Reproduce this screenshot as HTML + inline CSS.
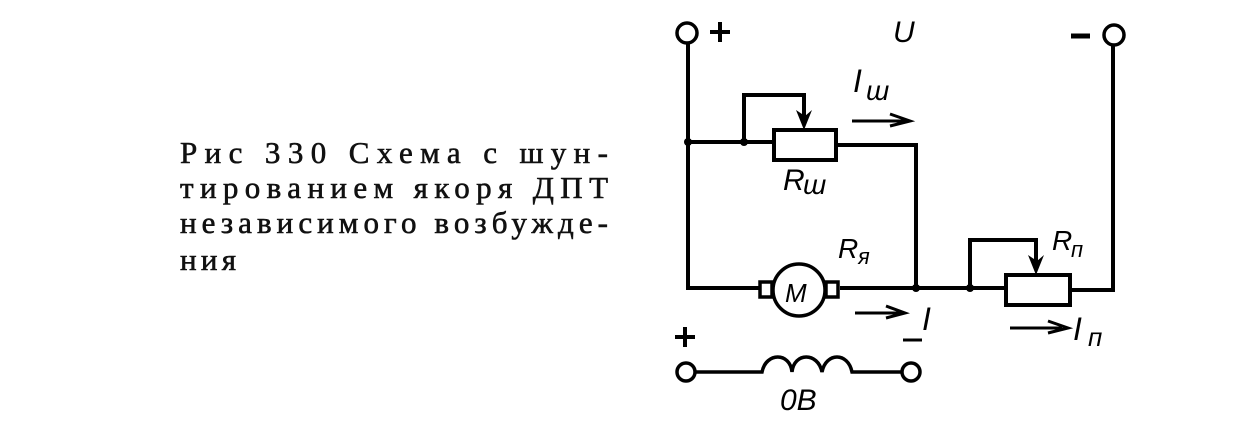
<!DOCTYPE html>
<html><head><meta charset="utf-8"><style>html,body{margin:0;padding:0;background:#fff}svg{display:block}</style></head>
<body>
<svg width="1236" height="428" viewBox="0 0 1236 428" xmlns="http://www.w3.org/2000/svg">
<g font-family="Liberation Serif, serif" font-size="31" fill="#111" stroke="#111" stroke-width="0.6">
<text x="180" y="163" textLength="428" lengthAdjust="spacing">Рис 330 Схема с шун-</text>
<text x="180" y="198" textLength="428" lengthAdjust="spacing">тированием якоря ДПТ</text>
<text x="180" y="233" textLength="428" lengthAdjust="spacing">независимого возбужде-</text>
<text x="180" y="270" textLength="56" lengthAdjust="spacing">ния</text>
</g>
<g stroke="#000" stroke-width="4" fill="none">
<circle cx="687" cy="33" r="10" stroke-width="3.5"/>
<circle cx="1114" cy="35" r="10" stroke-width="3.5"/>
<path d="M688 43 V288 H760"/>
<path d="M1113 45 V290 H1070"/>
<path d="M688 142 H774"/>
<path d="M744 142 V95 H804 V124"/>
<rect x="774" y="130" width="62" height="30"/>
<path d="M836 145 H916 V288"/>
<path d="M840 288 H1006"/>
<path d="M970 288 V240 H1036 V268"/>
<rect x="1006" y="275" width="64" height="30"/>
<rect x="760" y="282" width="12" height="15" stroke-width="3.5"/>
<rect x="826" y="282" width="12" height="15" stroke-width="3.5"/>
<circle cx="799" cy="290" r="26" stroke-width="3.5"/>
<circle cx="686" cy="372" r="9" stroke-width="3.5"/>
<circle cx="911" cy="372" r="9" stroke-width="3.5"/>
<path d="M695 372 H762 C766 352 790 352 792 372 C794 352 818 352 822 372 C826 352 848 352 852 372 H902" stroke-width="3.5"/>
<path d="M852 121 H905 M890 114 L910 121 L890 126" stroke-width="3"/>
<path d="M855 313 H900 M886 306 L905 313 L886 318" stroke-width="3"/>
<path d="M1010 328 H1062 M1048 321 L1068 328 L1048 333" stroke-width="3"/>
<path d="M1071 36 H1090" stroke-width="5"/>
<path d="M710 32 H730 M720 22 V42" stroke-width="4"/>
<path d="M675 337 H695 M685 327 V347" stroke-width="4"/>
<path d="M903 340 H922" stroke-width="3"/>
</g>
<g fill="#000">
<circle cx="688" cy="142" r="4"/><circle cx="744" cy="142" r="4"/>
<circle cx="916" cy="288" r="4"/><circle cx="970" cy="288" r="4"/>
<path d="M796 110 L804 130 L812 110 L805 116 Z"/>
<path d="M1028 255 L1036 275 L1044 255 L1037 261 Z"/>
</g>
<g font-family="Liberation Sans, DejaVu Sans, sans-serif" font-style="italic" fill="#000">
<text x="893" y="42" font-size="30">U</text>
<text x="853" y="92" font-size="32">I</text><text x="866" y="100" font-size="28">ш</text>
<text x="783" y="190" font-size="30">R</text><text x="803" y="194" font-size="28">ш</text>
<text x="838" y="258" font-size="28">R</text><text x="858" y="264" font-size="22">я</text>
<text x="1052" y="250" font-size="28">R</text><text x="1071" y="257" font-size="22">п</text>
<text x="785" y="302" font-size="26">M</text>
<text x="922" y="330" font-size="32">I</text>
<text x="1073" y="340" font-size="32">I</text><text x="1088" y="346" font-size="26">п</text>
<text x="780" y="410" font-size="30">0B</text>
</g>
</svg>
</body></html>
